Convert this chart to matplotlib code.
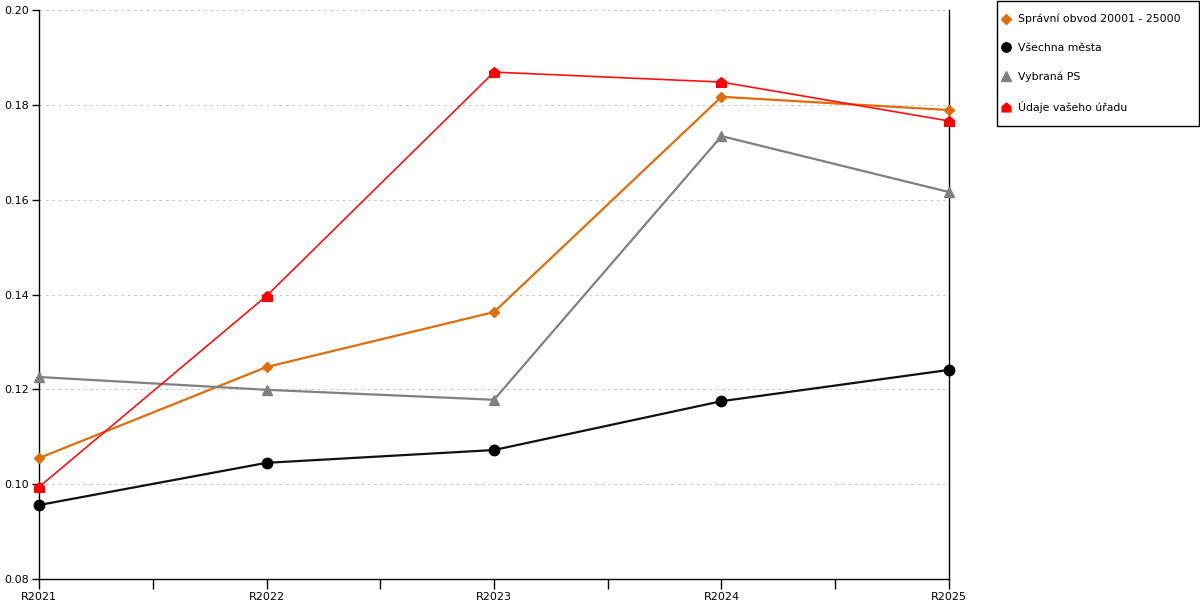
import matplotlib
matplotlib.use("Agg")
import matplotlib.pyplot as plt
from matplotlib.path import Path
from matplotlib.patches import Rectangle
from matplotlib.ticker import FixedLocator

categories = ["R2021", "R2022", "R2023", "R2024", "R2025"]
spravni = [0.1055, 0.1247, 0.1363, 0.1817, 0.1789]
vsechna = [0.0956, 0.1045, 0.1072, 0.1175, 0.1241]
vybrana = [0.1226, 0.1199, 0.1178, 0.1734, 0.1616]
udaje = [0.0994, 0.1397, 0.1869, 0.1848, 0.1766]
labels = ["Správní obvod 20001 - 25000", "Všechna města", "Vybraná PS", "Údaje vašeho úřadu"]
yticks = [0.08, 0.10, 0.12, 0.14, 0.16, 0.18, 0.20]

plt.rcParams['font.family'] = ['DejaVu Sans']

house = Path([(-1, -1), (1, -1), (1, 0.2), (0, 1), (-1, 0.2), (-1, -1)],
             [Path.MOVETO, Path.LINETO, Path.LINETO, Path.LINETO, Path.LINETO, Path.CLOSEPOLY])

fig = plt.figure(figsize=(12, 6), dpi=100)
ax = fig.add_axes([39/1200, 21/600, (949-39)/1200, (579-10)/600])
x = list(range(len(categories)))

ax.plot(x, spravni, color="#E36C0A", lw=1.6, marker="D", ms=5.5, label=labels[0], zorder=3)
ax.plot(x, vsechna, color="#111111", lw=1.6, marker="o", ms=7.5, mfc="black", mec="black", label=labels[1], zorder=3)
ax.plot(x, vybrana, color="#808080", lw=1.6, marker="^", ms=7.5, label=labels[2], zorder=3)
ax.plot(x, udaje, color="#FF1010", lw=1.2, marker=house, ms=7, mfc="#FF0000", mec="#FF0000", label=labels[3], zorder=4)

ax.set_xlim(0, len(categories) - 1)
ax.set_ylim(0.08, 0.20)
ax.set_xticks(x)
ax.set_xticklabels(categories)
ax.xaxis.set_minor_locator(FixedLocator([i + 0.5 for i in range(len(categories) - 1)]))
ax.set_yticks(yticks)
ax.set_yticklabels([f"{v:.2f}" for v in yticks])
ax.tick_params(axis="x", which="major", length=7, width=1, pad=2, labelsize=8, colors="black")
ax.tick_params(axis="x", which="minor", length=7, width=1)
ax.tick_params(axis="y", length=5, width=1, pad=2, labelsize=8)

for v in yticks[1:]:
    ax.axhline(v, color="#C4C4C4", lw=0.7, ls=(0, (2.5, 4)), zorder=1)

ax.spines["top"].set_visible(False)
for s in ["left", "bottom", "right"]:
    ax.spines[s].set_color("black")
    ax.spines[s].set_linewidth(1)
for line in ax.lines:
    line.set_clip_on(False)

fig.add_artist(Rectangle((997/1200, 474/600), 202/1200, 125/600, transform=fig.transFigure,
                         fill=False, ec="black", lw=1))
leg = fig.legend(loc="upper left", bbox_to_anchor=(1002/1200, 586/600), fontsize=7.8,
                 frameon=False, handlelength=0.7, handletextpad=0.75, labelspacing=1.72,
                 borderpad=0, borderaxespad=0, markerscale=0.9)
for h in leg.legend_handles:
    h.set_linestyle("none")

fig.savefig("out.png", dpi=100)
